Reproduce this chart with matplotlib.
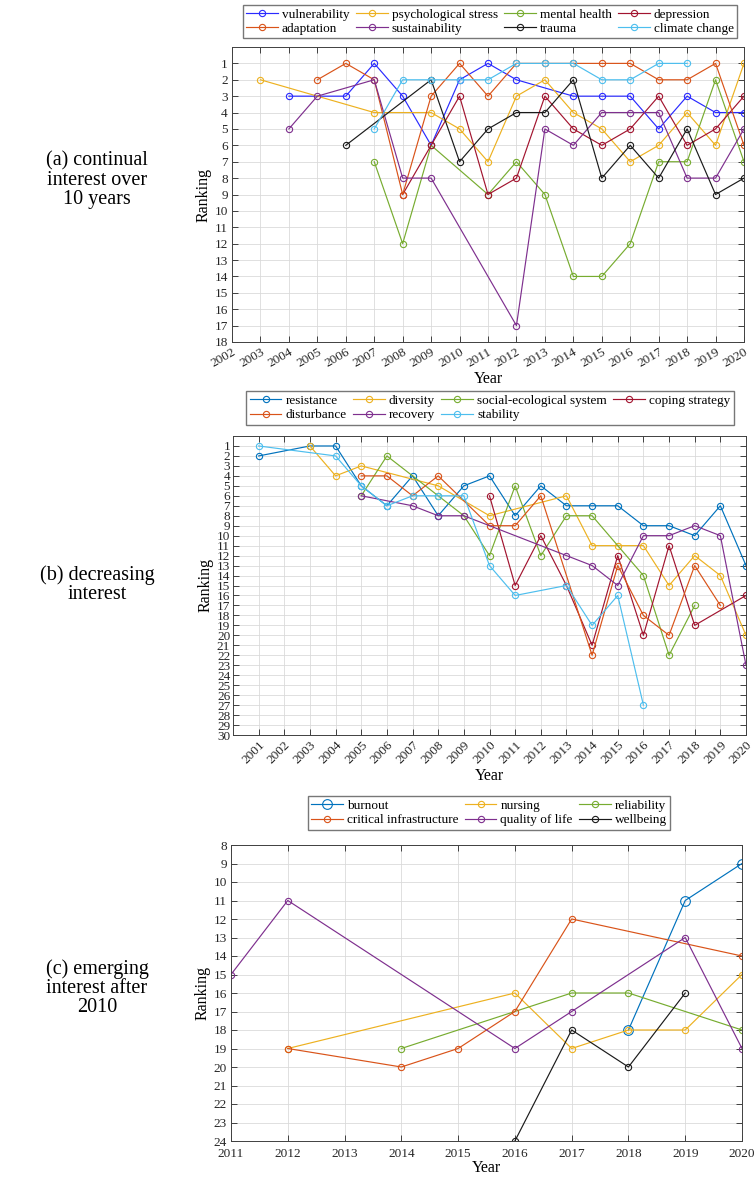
import matplotlib
matplotlib.use("Agg")
import matplotlib.pyplot as plt

plt.rcParams["font.family"] = ["Liberation Serif", "DejaVu Serif"]

# ---------------- panel (a): continual interest over 10 years ----------------
vulnerability_years = [2004, 2006, 2007, 2008, 2009, 2010, 2011, 2012, 2014, 2015, 2016, 2017, 2018, 2019, 2020]
vulnerability_rank = [3, 3, 1, 3, 6, 2, 1, 2, 3, 3, 3, 5, 3, 4, 4]
psych_years = [2003, 2007, 2009, 2010, 2011, 2012, 2013, 2014, 2015, 2016, 2017, 2018, 2019, 2020]
psych_rank = [2, 4, 4, 5, 7, 3, 2, 4, 5, 7, 6, 4, 6, 1]
mental_years = [2007, 2008, 2009, 2011, 2012, 2013, 2014, 2015, 2016, 2017, 2018, 2019, 2020]
mental_rank = [7, 12, 6, 9, 7, 9, 14, 14, 12, 7, 7, 2, 7]
depression_years = [2008, 2009, 2010, 2011, 2012, 2013, 2014, 2015, 2016, 2017, 2018, 2019, 2020]
depression_rank = [9, 6, 3, 9, 8, 3, 5, 6, 5, 3, 6, 5, 3]
adaptation_years = [2005, 2006, 2007, 2008, 2009, 2010, 2011, 2012, 2013, 2014, 2015, 2016, 2017, 2018, 2019, 2020]
adaptation_rank = [2, 1, 2, 9, 3, 1, 3, 1, 1, 1, 1, 1, 2, 2, 1, 6]
sustain_years = [2004, 2005, 2007, 2008, 2009, 2012, 2013, 2014, 2015, 2016, 2017, 2018, 2019, 2020]
sustain_rank = [5, 3, 2, 8, 8, 17, 5, 6, 4, 4, 4, 8, 8, 5]
trauma_years = [2006, 2009, 2010, 2011, 2012, 2013, 2014, 2015, 2016, 2017, 2018, 2019, 2020]
trauma_rank = [6, 2, 7, 5, 4, 4, 2, 8, 6, 8, 5, 9, 8]
climate_years = [2007, 2008, 2009, 2010, 2011, 2012, 2013, 2014, 2015, 2016, 2017, 2018]
climate_rank = [5, 2, 2, 2, 2, 1, 1, 1, 2, 2, 1, 1]

# ---------------- panel (b): decreasing interest ----------------
resistance_years = [2001, 2003, 2004, 2005, 2006, 2007, 2008, 2009, 2010, 2011, 2012, 2013, 2014, 2015, 2016, 2017, 2018, 2019, 2020]
resistance_rank = [2, 1, 1, 5, 7, 4, 8, 5, 4, 8, 5, 7, 7, 7, 9, 9, 10, 7, 13]
diversity_years = [2003, 2004, 2005, 2008, 2010, 2013, 2014, 2015, 2016, 2017, 2018, 2019, 2020]
diversity_rank = [1, 4, 3, 5, 8, 6, 11, 11, 11, 15, 12, 14, 20]
ses_years = [2005, 2006, 2008, 2009, 2010, 2011, 2012, 2013, 2014, 2016, 2017, 2018]
ses_rank = [6, 2, 6, 8, 12, 5, 12, 8, 8, 14, 22, 17]
coping_years = [2010, 2011, 2012, 2013, 2014, 2015, 2016, 2017, 2018, 2020]
coping_rank = [6, 15, 10, 15, 21, 12, 20, 11, 19, 16]
disturbance_years = [2005, 2006, 2007, 2008, 2010, 2011, 2012, 2014, 2015, 2016, 2017, 2018, 2019]
disturbance_rank = [4, 4, 6, 4, 9, 9, 6, 22, 13, 18, 20, 13, 17]
recovery_years = [2005, 2007, 2008, 2009, 2013, 2014, 2015, 2016, 2017, 2018, 2019, 2020]
recovery_rank = [6, 7, 8, 8, 12, 13, 15, 10, 10, 9, 10, 23]
stability_years = [2001, 2004, 2005, 2006, 2007, 2008, 2009, 2010, 2011, 2013, 2014, 2015, 2016]
stability_rank = [1, 2, 5, 7, 6, 6, 6, 13, 16, 15, 19, 16, 27]

# ---------------- panel (c): emerging interest after 2010 ----------------
burnout_years = [2018, 2019, 2020]
burnout_rank = [18, 11, 9]
nursing_years = [2012, 2016, 2017, 2018, 2019, 2020]
nursing_rank = [19, 16, 19, 18, 18, 15]
reliability_years = [2014, 2017, 2018, 2020]
reliability_rank = [19, 16, 16, 18]
infra_years = [2012, 2014, 2015, 2016, 2017, 2020]
infra_rank = [19, 20, 19, 17, 12, 14]
qol_years = [2011, 2012, 2016, 2017, 2019, 2020]
qol_rank = [15, 11, 19, 17, 13, 19]
wellbeing_years = [2016, 2017, 2018, 2019]
wellbeing_rank = [24, 18, 20, 16]

W, H = 754, 1180
fig = plt.figure(figsize=(W / 100, H / 100), dpi=100)


def px_axes(left, top, right, bottom):
    return fig.add_axes([left / W, 1 - bottom / H, (right - left) / W, (bottom - top) / H])


def style(ax):
    ax.grid(True, color="#dadada", lw=0.6)
    ax.set_axisbelow(True)
    ax.tick_params(direction="in", top=True, right=True, length=4, width=0.6,
                   labelsize=9.5, colors="#262626", pad=3)
    for s in ax.spines.values():
        s.set_color("#404040")
        s.set_linewidth(0.7)


def draw(ax, x, y, color, label, ms=4.5):
    return ax.plot(x, y, "-o", color=color, lw=0.85, ms=ms, mfc="none",
                   mew=0.8, label=label)[0]


def add_legend(handles, keys, ncol, cx, cy):
    fig.legend([handles[k] for k in keys], [handles[k].get_label() for k in keys],
               ncol=ncol, loc="center", bbox_to_anchor=(cx / W, 1 - cy / H),
               fontsize=9.5, frameon=True, fancybox=False, edgecolor="#555555",
               handlelength=2.4, handletextpad=0.3, columnspacing=0.5,
               borderpad=0.25, labelspacing=0.15)


blue = "#0072BD"
orange = "#D95319"
yellow = "#EDB120"
purple = "#7E2F8E"
green = "#77AC30"
lblue = "#4DBEEE"
red = "#A2142F"

# ---- (a)
ax1 = px_axes(232, 47, 744, 342)
h = {}
h["v"] = draw(ax1, vulnerability_years, vulnerability_rank, "#2a2aff", "vulnerability")
h["ps"] = draw(ax1, psych_years, psych_rank, yellow, "psychological stress")
h["mh"] = draw(ax1, mental_years, mental_rank, green, "mental health")
h["d"] = draw(ax1, depression_years, depression_rank, red, "depression")
h["a"] = draw(ax1, adaptation_years, adaptation_rank, orange, "adaptation")
h["s"] = draw(ax1, sustain_years, sustain_rank, purple, "sustainability")
h["t"] = draw(ax1, trauma_years, trauma_rank, "#1a1a1a", "trauma")
h["cc"] = draw(ax1, climate_years, climate_rank, lblue, "climate change")
ax1.set_xlim(2002, 2020)
ax1.set_ylim(18, 0)
ax1.set_xticks(range(2002, 2021))
ax1.set_yticks(range(1, 19))
style(ax1)
plt.setp(ax1.get_xticklabels(), rotation=30, ha="right", rotation_mode="anchor")
ax1.set_xlabel("Year", fontsize=11.5, labelpad=1)
ax1.set_ylabel("Ranking", fontsize=11.5, labelpad=2)
add_legend(h, ["v", "a", "ps", "s", "mh", "t", "d", "cc"], 4, 490, 21.5)

# ---- (b)
ax2 = px_axes(233, 436, 746, 735)
h = {}
h["res"] = draw(ax2, resistance_years, resistance_rank, blue, "resistance")
h["div"] = draw(ax2, diversity_years, diversity_rank, yellow, "diversity")
h["ses"] = draw(ax2, ses_years, ses_rank, green, "social-ecological system")
h["cop"] = draw(ax2, coping_years, coping_rank, red, "coping strategy")
h["dis"] = draw(ax2, disturbance_years, disturbance_rank, orange, "disturbance")
h["rec"] = draw(ax2, recovery_years, recovery_rank, purple, "recovery")
h["sta"] = draw(ax2, stability_years, stability_rank, lblue, "stability")
ax2.set_xlim(2000, 2020)
ax2.set_ylim(30, 0)
ax2.set_xticks(range(2001, 2021))
ax2.set_yticks(range(1, 31))
style(ax2)
ax2.tick_params(axis="y", pad=2)
plt.setp(ax2.get_xticklabels(), rotation=45, ha="right", rotation_mode="anchor")
ax2.set_xlabel("Year", fontsize=11.5, labelpad=1)
ax2.set_ylabel("Ranking", fontsize=11.5, labelpad=2)
add_legend(h, ["res", "dis", "div", "rec", "ses", "sta", "cop"], 4, 490, 408)

# ---- (c)
ax3 = px_axes(231, 845, 742, 1141)
h = {}
h["bo"] = draw(ax3, burnout_years, burnout_rank, blue, "burnout", ms=7)
h["nu"] = draw(ax3, nursing_years, nursing_rank, yellow, "nursing")
h["re"] = draw(ax3, reliability_years, reliability_rank, green, "reliability")
h["ci"] = draw(ax3, infra_years, infra_rank, orange, "critical infrastructure")
h["ql"] = draw(ax3, qol_years, qol_rank, purple, "quality of life")
h["wb"] = draw(ax3, wellbeing_years, wellbeing_rank, "#1a1a1a", "wellbeing")
ax3.set_xlim(2011, 2020)
ax3.set_ylim(24, 8)
ax3.set_xticks(range(2011, 2021))
ax3.set_yticks(range(8, 25))
style(ax3)
ax3.tick_params(axis="x", pad=5)
ax3.set_xlabel("Year", fontsize=11.5, labelpad=0)
ax3.set_ylabel("Ranking", fontsize=11.5, labelpad=2)
add_legend(h, ["bo", "ci", "nu", "ql", "re", "wb"], 3, 489, 813)

# ---- side captions
for txt, yc in [("(a) continual\ninterest over\n10 years", 180),
                ("(b) decreasing\ninterest", 585),
                ("(c) emerging\ninterest after\n2010", 988)]:
    fig.text(97 / W, 1 - yc / H, txt, ha="center", va="center", fontsize=14.5,
             linespacing=1.0)

fig.savefig("out.png", dpi=100)
